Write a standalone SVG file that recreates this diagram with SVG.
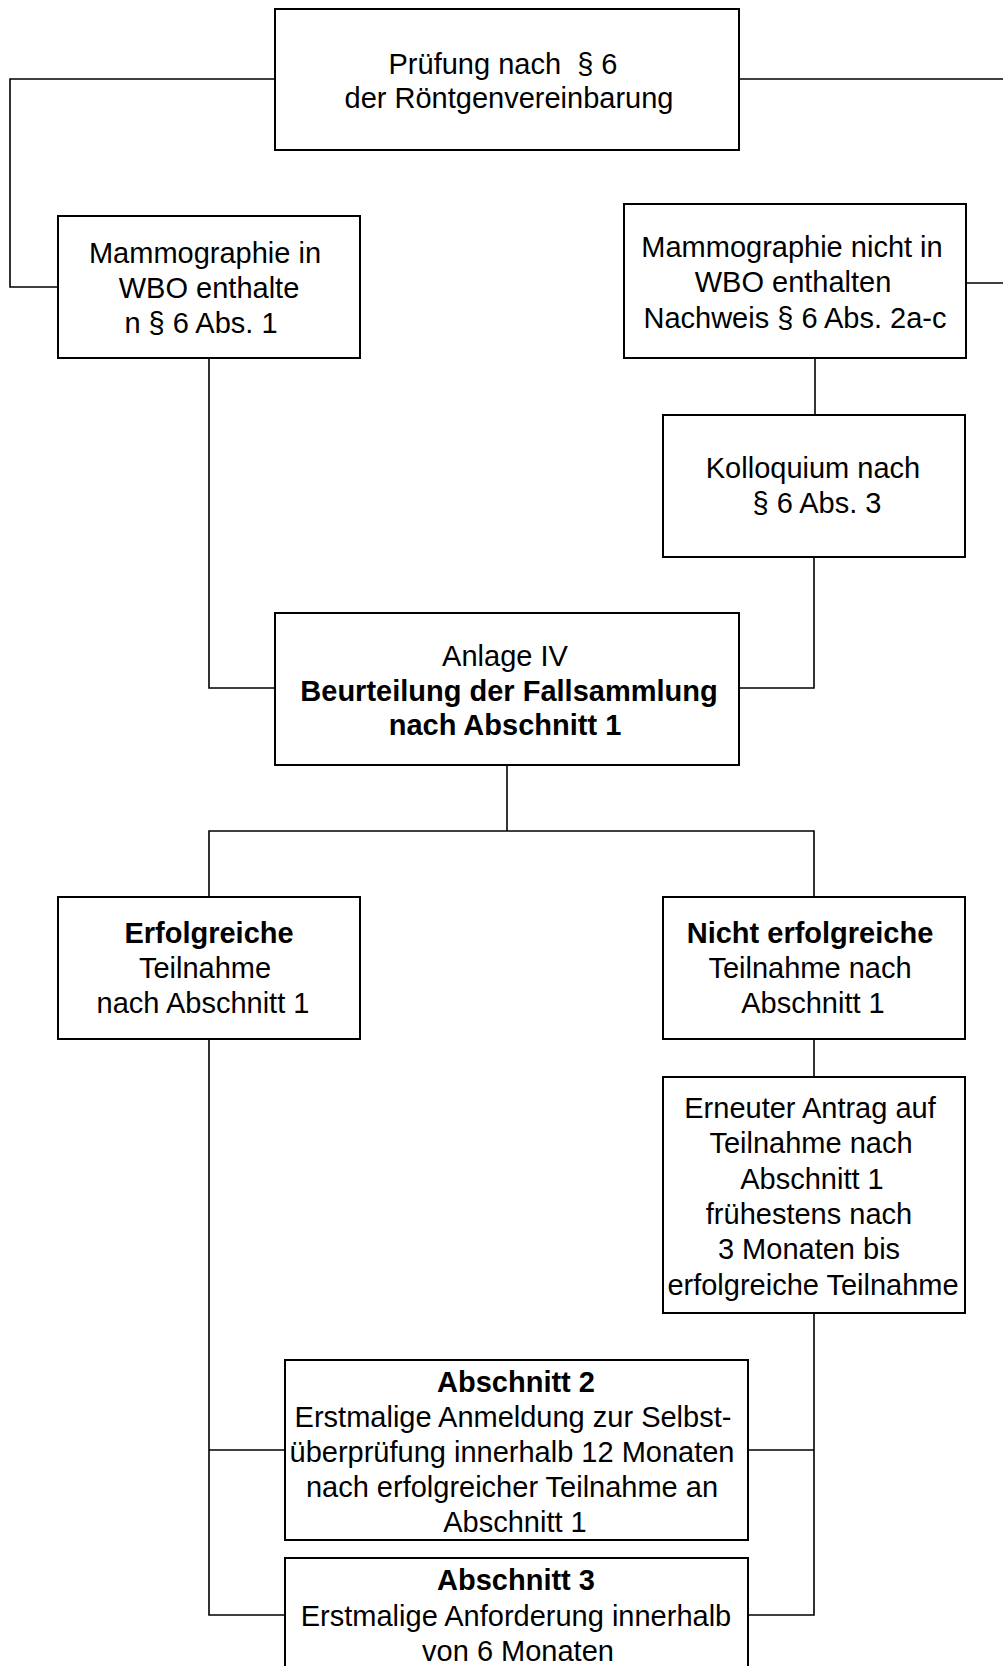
<svg xmlns="http://www.w3.org/2000/svg" width="1003" height="1666" viewBox="0 0 1003 1666">
<style>
.box{fill:#fff;stroke:#000;stroke-width:2}
.ln{fill:none;stroke:#000;stroke-width:1.6}
text{font-family:"Liberation Sans",Arial,sans-serif;font-size:29px;fill:#000;text-anchor:middle;white-space:pre}
.b{font-weight:bold}
</style>
<rect width="1003" height="1666" fill="#fff"/>
<g id="connectors">
<polyline class="ln" points="275,79 10,79 10,287 58,287"/>
<line class="ln" x1="739" y1="79" x2="1010" y2="79"/>
<line class="ln" x1="966" y1="283" x2="1010" y2="283"/>
<line class="ln" x1="815" y1="348" x2="815" y2="415"/>
<polyline class="ln" points="209,358 209,688 275,688"/>
<polyline class="ln" points="814,557 814,688 739,688"/>
<line class="ln" x1="507" y1="765" x2="507" y2="831"/>
<polyline class="ln" points="209,897 209,831 814,831 814,897"/>
<line class="ln" x1="814" y1="1039" x2="814" y2="1077"/>
<polyline class="ln" points="209,1039 209,1615 285,1615"/>
<line class="ln" x1="209" y1="1450" x2="285" y2="1450"/>
<polyline class="ln" points="814,1313 814,1615 748,1615"/>
<line class="ln" x1="748" y1="1450" x2="814" y2="1450"/>
</g>
<g id="n-pruefung">
<rect class="box" x="275" y="9" width="464" height="141"/>
<text x="503" y="74">Prüfung nach  § 6</text>
<text x="509" y="108">der Röntgenvereinbarung</text>
</g>
<g id="n-wbo-in">
<rect class="box" x="58" y="216" width="302" height="142"/>
<text x="205" y="263">Mammographie in</text>
<text x="209" y="298">WBO enthalte</text>
<text x="201" y="333">n § 6 Abs. 1</text>
</g>
<g id="n-wbo-nicht">
<rect class="box" x="624" y="204" width="342" height="154"/>
<text x="792" y="257">Mammographie nicht in</text>
<text x="793" y="292">WBO enthalten</text>
<text x="795" y="328">Nachweis § 6 Abs. 2a-c</text>
</g>
<g id="n-kolloquium">
<rect class="box" x="663" y="415" width="302" height="142"/>
<text x="813" y="478">Kolloquium nach</text>
<text x="817" y="513">§ 6 Abs. 3</text>
</g>
<g id="n-anlage">
<rect class="box" x="275" y="613" width="464" height="152"/>
<text x="505" y="666">Anlage IV</text>
<text class="b" x="509" y="701">Beurteilung der Fallsammlung</text>
<text class="b" x="505" y="735">nach Abschnitt 1</text>
</g>
<g id="n-erfolgreich">
<rect class="box" x="58" y="897" width="302" height="142"/>
<text class="b" x="209" y="943">Erfolgreiche</text>
<text x="205" y="978">Teilnahme</text>
<text x="203" y="1013">nach Abschnitt 1</text>
</g>
<g id="n-nicht-erfolgreich">
<rect class="box" x="663" y="897" width="302" height="142"/>
<text class="b" x="810" y="943">Nicht erfolgreiche</text>
<text x="810" y="978">Teilnahme nach</text>
<text x="813" y="1013">Abschnitt 1</text>
</g>
<g id="n-erneuter">
<rect class="box" x="663" y="1077" width="302" height="236"/>
<text x="810" y="1118">Erneuter Antrag auf</text>
<text x="811" y="1153">Teilnahme nach</text>
<text x="812" y="1189">Abschnitt 1</text>
<text x="809" y="1224">frühestens nach</text>
<text x="809" y="1259">3 Monaten bis</text>
<text x="813" y="1295">erfolgreiche Teilnahme</text>
</g>
<g id="n-abschnitt2">
<rect class="box" x="285" y="1360" width="463" height="180"/>
<text class="b" x="516" y="1392">Abschnitt 2</text>
<text x="513" y="1427">Erstmalige Anmeldung zur Selbst-</text>
<text x="512" y="1462">überprüfung innerhalb 12 Monaten</text>
<text x="512" y="1497">nach erfolgreicher Teilnahme an</text>
<text x="515" y="1532">Abschnitt 1</text>
</g>
<g id="n-abschnitt3">
<rect class="box" x="285" y="1558" width="463" height="140"/>
<text class="b" x="516" y="1590">Abschnitt 3</text>
<text x="516" y="1626">Erstmalige Anforderung innerhalb</text>
<text x="518" y="1661">von 6 Monaten</text>
</g>
</svg>
